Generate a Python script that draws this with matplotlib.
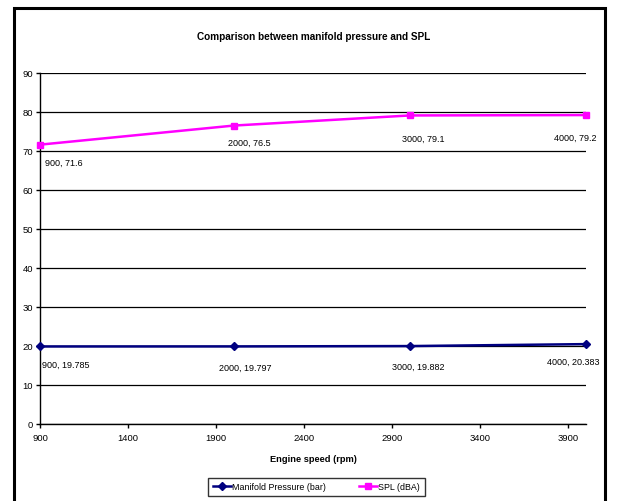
import matplotlib
matplotlib.use("Agg")
import matplotlib.pyplot as plt
from matplotlib.patches import Rectangle

plt.rcParams['font.family'] = ['Liberation Sans', 'DejaVu Sans']

# data
engine_speed = [900, 2000, 3000, 4000]
manifold_pressure = [19.785, 19.797, 19.882, 20.383]
spl = [71.6, 76.5, 79.1, 79.2]
x_ticks = [900, 1400, 1900, 2400, 2900, 3400, 3900]
y_ticks = [0, 10, 20, 30, 40, 50, 60, 70, 80, 90]

navy = '#000080'
magenta = '#FF00FF'
W, H = 619, 502

fig = plt.figure(figsize=(W / 100, H / 100), dpi=100)
# outer chart border (bottom edge runs off the picture)
fig.patches.append(Rectangle((14 / W, -0.02), (605 - 14) / W, 1 - 9 / H + 0.02,
                             transform=fig.transFigure, fill=False,
                             edgecolor='black', linewidth=2.2))
ax = fig.add_axes([40 / W, 1 - 424.5 / H, (586 - 40) / W, (424.5 - 74) / H])

ax.plot(engine_speed, manifold_pressure, color=navy, linewidth=1.8,
        marker='D', markersize=4.2, label='Manifold Pressure (bar)', clip_on=False, zorder=3)
ax.plot(engine_speed, spl, color=magenta, linewidth=1.8,
        marker='s', markersize=5, label='SPL (dBA)', clip_on=False, zorder=3)

ax.set_xlim(900, 4000)
ax.set_ylim(0, 90)
ax.set_xticks(x_ticks)
ax.set_yticks(y_ticks)
ax.tick_params(direction='out', length=3, width=1, labelsize=6.8, colors='black')
ax.tick_params(axis='y', pad=2)
ax.tick_params(axis='x', pad=4)
ax.yaxis.grid(True, color='black', linewidth=0.9)
ax.set_axisbelow(True)
for s in ['top', 'right']:
    ax.spines[s].set_visible(False)
for s in ['left', 'bottom']:
    ax.spines[s].set_linewidth(1)

# data label offsets in pixels (label centre relative to the point, + is down)
spl_off = [(24, 18), (16, 17), (13, 23), (-11, 22)]
mp_off = [(26, 18), (12, 21), (8, 20), (-13, 17)]
for x, y, (dx, dy) in zip(engine_speed, spl, spl_off):
    ax.annotate('%d, %g' % (x, y), (x, y), xytext=(dx * 0.72, -dy * 0.72),
                textcoords='offset points', ha='center', va='center', fontsize=6.5,
                annotation_clip=False)
for x, y, (dx, dy) in zip(engine_speed, manifold_pressure, mp_off):
    ax.annotate('%d, %.3f' % (x, y), (x, y), xytext=(dx * 0.72, -dy * 0.72),
                textcoords='offset points', ha='center', va='center', fontsize=6.5,
                annotation_clip=False)

fig.text(314 / W, 1 - 37 / H, 'Comparison between manifold pressure and SPL',
         ha='center', va='center', fontsize=7.2, fontweight='bold')
fig.text(313.5 / W, 1 - 460 / H, 'Engine speed (rpm)',
         ha='center', va='center', fontsize=6.7, fontweight='bold')

leg = fig.legend(loc='center', bbox_to_anchor=(316.5 / W, 1 - 488 / H), ncol=2,
                 fontsize=6.4, frameon=True, fancybox=False, edgecolor='black',
                 handlelength=2.05, columnspacing=3.7, borderpad=0.55, handletextpad=0.1)
leg.get_frame().set_linewidth(1)

fig.savefig('out.png', dpi=100)
